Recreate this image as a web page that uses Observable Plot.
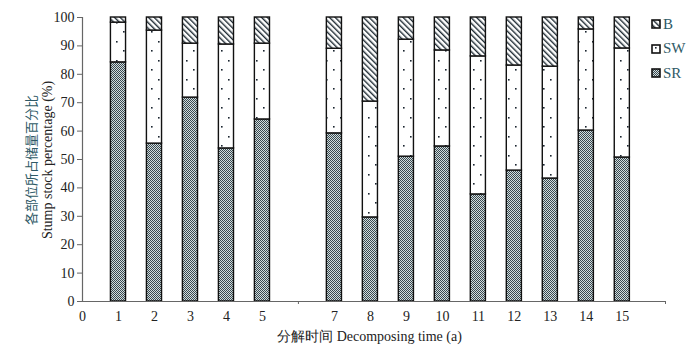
<!DOCTYPE html>
<html>
<head>
<meta charset="utf-8">
<script src="https://cdn.jsdelivr.net/npm/d3@7"></script>
<script src="https://cdn.jsdelivr.net/npm/@observablehq/plot@0.6"></script>
<style>
  body { margin: 0; background: #fff; }
  #wrap { position: relative; width: 700px; height: 353px; background: #fff; }
  #legend { position: absolute; left: 651px; top: 12px; font-family: "Liberation Serif", serif; font-size: 15px; color: #2e5966; }
  #legend div { display: flex; align-items: center; height: 24.5px; }
  #legend svg { margin-right: 2px; }
</style>
</head>
<body>
<div id="wrap"></div>
<script>
// Data (percent of stump stock by part)
const years = [1, 2, 3, 4, 5, 7, 8, 9, 10, 11, 12, 13, 14, 15];
const SR = [84.2, 55.6, 71.8, 53.9, 64.1, 59.2, 29.6, 51.0, 54.6, 37.7, 46.1, 43.3, 60.2, 50.7];
const SW = [14.0, 39.8, 19.0, 36.6, 26.7, 29.8, 40.8, 41.2, 33.8, 48.6, 37.0, 39.4, 35.6, 38.4];
const B = years.map((_, i) => +(100 - SR[i] - SW[i]).toFixed(1));
const parts = ["SR", "SW", "B"];
const legendOrder = ["B", "SW", "SR"];
const xTickLabels = [0, 1, 2, 3, 4, 5, 7, 8, 9, 10, 11, 12, 13, 14, 15];
const xTickMarks = [6, 16.2];
const yTicks = [0, 10, 20, 30, 40, 50, 60, 70, 80, 90, 100];
const xTitle = "分解时间 Decomposing time (a)";
const yTitleZh = "各部位所占储量百分比";
const yTitleEn = "Stump stock percentage (%)";

const series = {SR, SW, B};
const rows = [];
years.forEach((yr, i) => {
  let base = 0;
  for (const p of parts) {
    const v = series[p][i];
    rows.push({year: yr, part: p, y1: base, y2: base + v});
    base += v;
  }
});

const halfW = 0.21;
const fillOf = {SR: "url(#pSR)", SW: "url(#pSW)", B: "url(#pB)"};
const serif = "Liberation Serif, Times New Roman, serif";

const chart = Plot.plot({
  width: 700,
  height: 353,
  marginLeft: 82,
  marginRight: 35,
  marginTop: 17,
  marginBottom: 52,
  style: {fontFamily: serif, fontSize: "13px", color: "#222", background: "#fff"},
  x: {domain: [0, 16.2]},
  y: {domain: [0, 100]},
  marks: [
    ...parts.map(p => Plot.rect(rows.filter(d => d.part === p), {
      x1: d => d.year - halfW,
      x2: d => d.year + halfW,
      y1: "y1",
      y2: "y2",
      fill: fillOf[p],
      stroke: "#111",
      strokeWidth: 1.4
    })),
    Plot.ruleY([0], {stroke: "#666", strokeWidth: 1.2}),
    Plot.ruleX([0], {stroke: "#666", strokeWidth: 1.2}),
    Plot.axisY({ticks: yTicks, tickSize: 5, tickPadding: 3, stroke: "#666", fill: "#222", fontSize: 14, label: null}),
    Plot.axisX({ticks: xTickLabels, tickSize: 0, tickPadding: 10, fill: "#222", fontSize: 14, label: null}),
    Plot.axisX({ticks: xTickMarks, tickSize: 3, tickFormat: () => "", stroke: "#666", label: null})
  ]
});

const svg = d3.select(chart);
const defs = svg.insert("defs", ":first-child");
function addPatterns(defs, prefix) {
  const sr = defs.append("pattern").attr("id", prefix + "SR").attr("patternUnits", "userSpaceOnUse").attr("width", 2).attr("height", 2);
  sr.append("rect").attr("width", 2).attr("height", 2).attr("fill", "#d2dede");
  sr.append("rect").attr("width", 1).attr("height", 1).attr("fill", "#3a4850");
  sr.append("rect").attr("x", 1).attr("y", 1).attr("width", 1).attr("height", 1).attr("fill", "#3a4850");
  const sw = defs.append("pattern").attr("id", prefix + "SW").attr("patternUnits", "userSpaceOnUse").attr("width", 14).attr("height", 19);
  sw.append("rect").attr("width", 14).attr("height", 19).attr("fill", "#fff");
  sw.append("rect").attr("x", 4).attr("y", 3).attr("width", 1.6).attr("height", 1.6).attr("fill", "#1a2530");
  sw.append("rect").attr("x", 11).attr("y", 12).attr("width", 1.6).attr("height", 1.6).attr("fill", "#1a2530");
  const b = defs.append("pattern").attr("id", prefix + "B").attr("patternUnits", "userSpaceOnUse").attr("width", 4).attr("height", 4).attr("patternTransform", "rotate(-45)");
  b.append("rect").attr("width", 4).attr("height", 4).attr("fill", "#fff");
  b.append("rect").attr("width", 1.4).attr("height", 4).attr("fill", "#1e2a33");
}
addPatterns(defs, "p");

// Axis titles
svg.append("text")
  .attr("x", 82 + (665 - 82) / 2 - 4).attr("y", 341)
  .attr("text-anchor", "middle")
  .attr("font-family", serif).attr("font-size", 14).attr("fill", "#222")
  .text(xTitle);
const yt = svg.append("text")
  .attr("transform", "translate(0,160) rotate(-90)")
  .attr("text-anchor", "middle")
  .attr("font-size", 14);
yt.append("tspan").attr("x", 0).attr("y", 36).attr("fill", "#2e5966")
  .attr("font-family", "Noto Sans CJK SC, sans-serif").attr("font-size", 13).text(yTitleZh);
yt.append("tspan").attr("x", 0).attr("y", 52).attr("fill", "#222")
  .attr("font-family", serif).text(yTitleEn);

const wrap = document.getElementById("wrap");
wrap.appendChild(chart);

// Legend
const leg = document.createElement("div");
leg.id = "legend";
wrap.appendChild(leg);
legendOrder.forEach(p => {
  const row = document.createElement("div");
  const s = d3.create("svg").attr("width", 10).attr("height", 10);
  const ld = s.append("defs");
  addPatterns(ld, "l" + p);
  s.append("rect").attr("x", 1).attr("y", 1).attr("width", 8).attr("height", 8)
    .attr("fill", `url(#l${p}${p})`).attr("stroke", "#111").attr("stroke-width", 1.6);
  row.appendChild(s.node());
  const t = document.createElement("span");
  t.textContent = p;
  row.appendChild(t);
  leg.appendChild(row);
});
</script>
</body>
</html>
